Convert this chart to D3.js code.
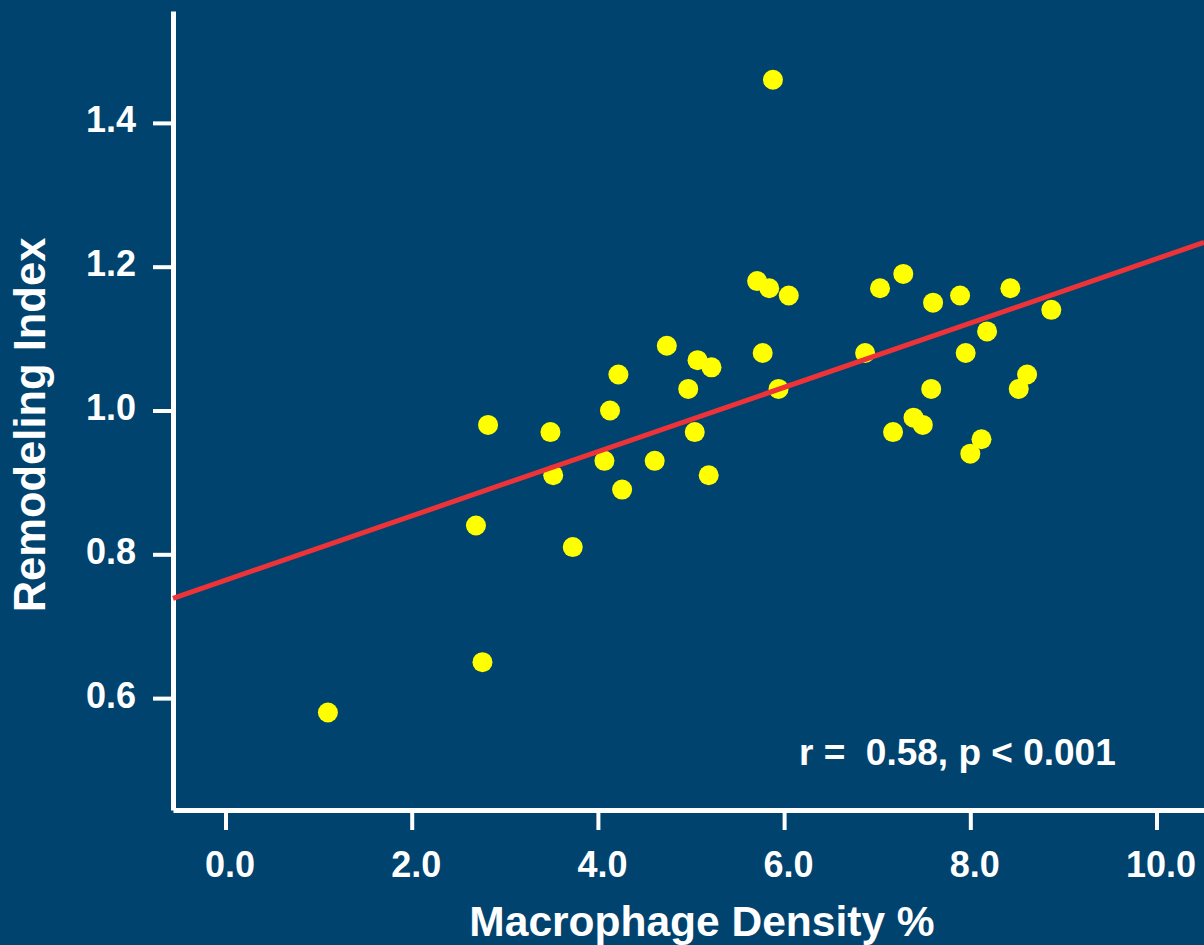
<!DOCTYPE html>
<html>
<head>
<meta charset="utf-8">
<script src="https://cdn.jsdelivr.net/npm/d3@7"></script>
<style>
  html, body { margin: 0; padding: 0; background: #00436f; }
  svg { display: block; }
  text { font-family: "Liberation Sans", Arial, sans-serif; font-weight: bold; fill: #ffffff; }
</style>
</head>
<body>
<svg id="chart" width="1204" height="945"></svg>
<script>
// ---- data ----
const macrophageDensity = [1.10, 2.69, 2.76, 2.82, 3.49, 3.52, 3.73, 4.07, 4.13, 4.22, 4.26, 4.61, 4.74, 4.97, 5.04, 5.07, 5.19, 5.22,
  5.71, 5.77, 5.84, 5.88, 5.94, 6.05, 6.87, 7.03, 7.17, 7.28, 7.39, 7.49, 7.58, 7.60, 7.89, 7.95, 8.00, 8.12, 8.18, 8.43, 8.52, 8.61, 8.87];
const remodelingIndex = [0.58, 0.84, 0.65, 0.98, 0.97, 0.91, 0.81, 0.93, 1.00, 1.05, 0.89, 0.93, 1.09, 1.03, 0.97, 1.07, 0.91, 1.06,
  1.18, 1.08, 1.17, 1.46, 1.03, 1.16, 1.08, 1.17, 0.97, 1.19, 0.99, 0.98, 1.03, 1.15, 1.16, 1.08, 0.94, 0.96, 1.11, 1.17, 1.03, 1.05, 1.14];
const xTicks = [0, 2, 4, 6, 8, 10];
const yTicks = [0.6, 0.8, 1.0, 1.2, 1.4];
const xDomain = [-0.564, 10.51];
const yDomain = [0.4444, 1.5556];
const regressionIntercept = 0.764;
const regressionSlope = 0.0447;
const xTitle = "Macrophage Density %";
const yTitle = "Remodeling Index";
const statsLabel = "r =  0.58, p < 0.001";

// ---- layout ----
const svg = d3.select("#chart");
const plotLeft = 173, plotRight = 1204, plotTop = 11, plotBottom = 810;

svg.append("rect").attr("width", 1204).attr("height", 945).attr("fill", "#00436f");

const x = d3.scaleLinear().domain(xDomain).range([plotLeft, plotRight]);
const y = d3.scaleLinear().domain(yDomain).range([plotBottom, plotTop]);

// axes
const gx = svg.append("g").attr("transform", `translate(0,${plotBottom})`)
  .call(d3.axisBottom(x).tickValues(xTicks).tickFormat(d3.format(".1f")).tickSize(20).tickSizeOuter(0));
gx.select(".domain").attr("stroke", "#fff").attr("stroke-width", 5);
gx.selectAll(".tick line").attr("stroke", "#fff").attr("stroke-width", 4);
gx.selectAll(".tick text").attr("y", 67).attr("dy", 0).attr("dx", 4)
  .style("font-size", "36px").attr("fill", "#fff");

const gy = svg.append("g").attr("transform", `translate(${plotLeft},0)`)
  .call(d3.axisLeft(y).tickValues(yTicks).tickFormat(d3.format(".1f")).tickSize(20).tickSizeOuter(0));
gy.select(".domain").attr("stroke", "#fff").attr("stroke-width", 5);
gy.selectAll(".tick line").attr("stroke", "#fff").attr("stroke-width", 4);
gy.selectAll(".tick text").attr("x", -37).attr("dy", 9)
  .style("font-size", "36px").attr("fill", "#fff");

gx.attr("font-family", null).attr("font-size", null);
gy.attr("font-family", null).attr("font-size", null);

// points
const pts = macrophageDensity.map((v, i) => ({ x: v, y: remodelingIndex[i] }));
svg.append("g").selectAll("circle").data(pts).join("circle")
  .attr("cx", d => x(d.x)).attr("cy", d => y(d.y)).attr("r", 10)
  .attr("fill", "#ffff00");

// regression line
const lineData = xDomain.map(v => ({ x: v, y: regressionIntercept + regressionSlope * v }));
svg.append("path").datum(lineData)
  .attr("d", d3.line().x(d => x(d.x)).y(d => y(d.y)))
  .attr("stroke", "#ee3338").attr("stroke-width", 5).attr("fill", "none");

// titles
svg.append("text").attr("x", 702).attr("y", 936).attr("text-anchor", "middle")
  .style("font-size", "42.5px").text(xTitle);
svg.append("text").attr("transform", "translate(45,425) rotate(-90)").attr("text-anchor", "middle")
  .style("font-size", "43.5px").text(yTitle);

svg.append("text").attr("x", 799).attr("y", 765).style("font-size", "37px")
  .attr("xml:space", "preserve").style("white-space", "pre").text(statsLabel);
</script>
</body>
</html>
